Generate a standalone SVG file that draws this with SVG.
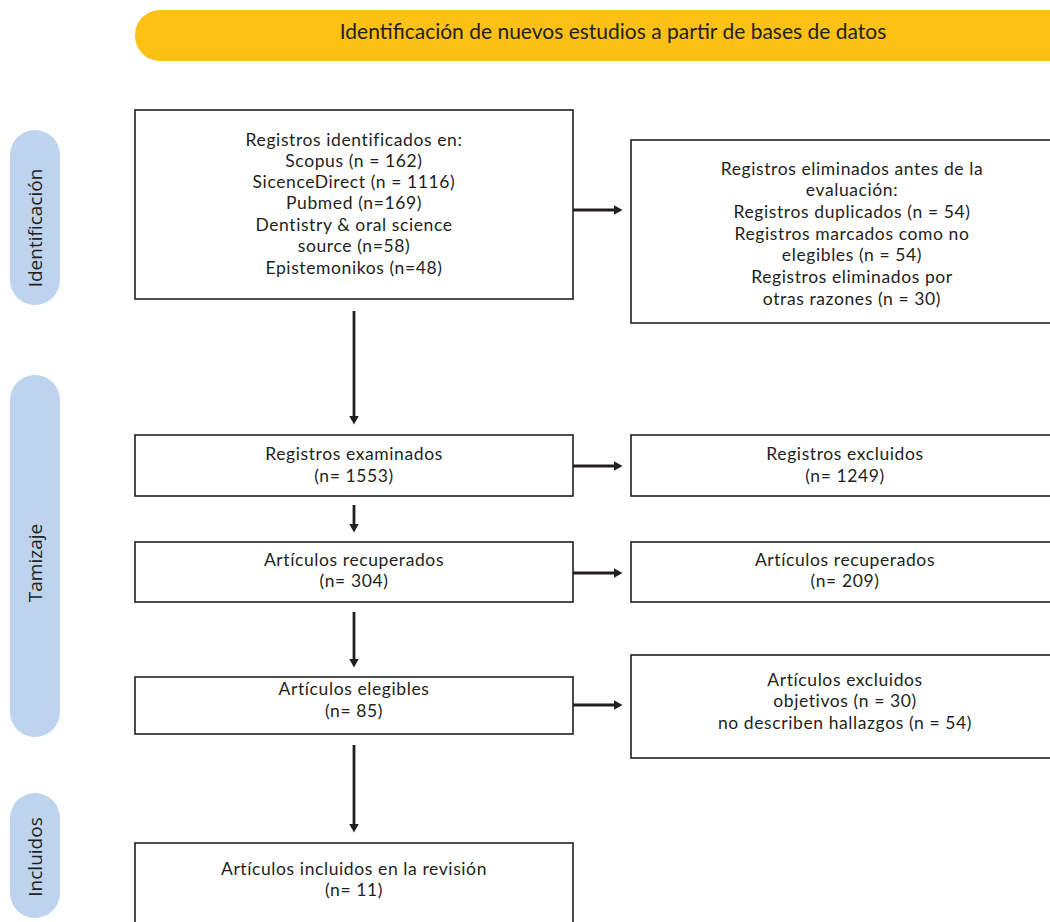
<svg xmlns="http://www.w3.org/2000/svg" width="1050" height="922" viewBox="0 0 1050 922">
<style>
.box{fill:#fff;stroke:#231f20;stroke-width:1.6}
.pill{fill:#bdd3ee}
.t{font-family:Lato,"Liberation Sans",sans-serif;font-size:17.5px;letter-spacing:0.6px;fill:#231f20;text-anchor:middle}
.hd{font-family:Lato,"Liberation Sans",sans-serif;font-size:21px;fill:#231f20;text-anchor:middle}
.side{font-family:"Open Sans","Liberation Sans",sans-serif;font-size:19px;fill:#231f20;text-anchor:middle}
.ln{stroke:#231f20;stroke-width:2.8;fill:none}
</style>
<defs>
<marker id="ah" markerWidth="10" markerHeight="10" refX="0.5" refY="5" orient="auto" markerUnits="userSpaceOnUse" viewBox="0 0 10 10">
<path d="M0,0 L9,5 L0,10 Z" fill="#231f20"/>
</marker>
</defs>
<rect width="1050" height="922" fill="#fff"/>
<g id="banner">
<rect x="135" y="10" width="940" height="51" rx="25" fill="#fdc116"/>
<text class="hd" x="613" y="39">Identificación de nuevos estudios a partir de bases de datos</text>
</g>
<g id="phase-identificacion">
<rect class="pill" x="10" y="130" width="50" height="175" rx="25"/>
<text class="side" transform="translate(42,228) rotate(-90)">Identificación</text>
</g>
<g id="phase-tamizaje">
<rect class="pill" x="10" y="375" width="50" height="362" rx="25"/>
<text class="side" transform="translate(42,563) rotate(-90)">Tamizaje</text>
</g>
<g id="phase-incluidos">
<rect class="pill" x="10" y="793" width="50" height="125" rx="25"/>
<text class="side" transform="translate(42,857) rotate(-90)">Incluidos</text>
</g>
<g id="n1">
<rect class="box" x="135" y="110" width="438" height="189"/>
<text class="t" x="354" y="146">Registros identificados en:</text>
<text class="t" x="354" y="167">Scopus (n = 162)</text>
<text class="t" x="354" y="188">SicenceDirect (n = 1116)</text>
<text class="t" x="354" y="209">Pubmed (n=169)</text>
<text class="t" x="354" y="231">Dentistry &amp; oral science</text>
<text class="t" x="354" y="252">source (n=58)</text>
<text class="t" x="354" y="274">Epistemonikos (n=48)</text>
</g>
<g id="n2">
<rect class="box" x="631" y="140" width="425" height="183"/>
<text class="t" x="852" y="175">Registros eliminados antes de la</text>
<text class="t" x="852" y="196">evaluación:</text>
<text class="t" x="852" y="218">Registros duplicados (n = 54)</text>
<text class="t" x="852" y="240">Registros marcados como no</text>
<text class="t" x="852" y="261">elegibles (n = 54)</text>
<text class="t" x="852" y="283">Registros eliminados por</text>
<text class="t" x="852" y="305">otras razones (n = 30)</text>
</g>
<g id="n3">
<rect class="box" x="135" y="435" width="438" height="61"/>
<text class="t" x="354" y="460">Registros examinados</text>
<text class="t" x="354" y="482">(n= 1553)</text>
</g>
<g id="n4">
<rect class="box" x="631" y="435" width="425" height="61"/>
<text class="t" x="845" y="460">Registros excluidos</text>
<text class="t" x="845" y="482">(n= 1249)</text>
</g>
<g id="n5">
<rect class="box" x="135" y="542" width="438" height="60"/>
<text class="t" x="354" y="566">Artículos recuperados</text>
<text class="t" x="354" y="587">(n= 304)</text>
</g>
<g id="n6">
<rect class="box" x="631" y="542" width="425" height="60"/>
<text class="t" x="845" y="566">Artículos recuperados</text>
<text class="t" x="845" y="587">(n= 209)</text>
</g>
<g id="n7">
<rect class="box" x="135" y="677" width="438" height="57"/>
<text class="t" x="354" y="695">Artículos elegibles</text>
<text class="t" x="354" y="717">(n= 85)</text>
</g>
<g id="n8">
<rect class="box" x="631" y="655" width="425" height="103"/>
<text class="t" x="845" y="686">Artículos excluidos</text>
<text class="t" x="845" y="707">objetivos (n = 30)</text>
<text class="t" x="845" y="729">no describen hallazgos (n = 54)</text>
</g>
<g id="n9">
<rect class="box" x="135" y="843" width="438" height="90"/>
<text class="t" x="354" y="875">Artículos incluidos en la revisión</text>
<text class="t" x="354" y="896">(n= 11)</text>
</g>
<g id="connectors">
<line class="ln" x1="573" y1="210" x2="614" y2="210" marker-end="url(#ah)"/>
<line class="ln" x1="354" y1="311" x2="354" y2="416" marker-end="url(#ah)"/>
<line class="ln" x1="573" y1="466" x2="614" y2="466" marker-end="url(#ah)"/>
<line class="ln" x1="354" y1="505" x2="354" y2="524" marker-end="url(#ah)"/>
<line class="ln" x1="573" y1="573" x2="614" y2="573" marker-end="url(#ah)"/>
<line class="ln" x1="354" y1="612" x2="354" y2="659" marker-end="url(#ah)"/>
<line class="ln" x1="573" y1="705" x2="614" y2="705" marker-end="url(#ah)"/>
<line class="ln" x1="354" y1="745" x2="354" y2="824" marker-end="url(#ah)"/>
</g>
</svg>
